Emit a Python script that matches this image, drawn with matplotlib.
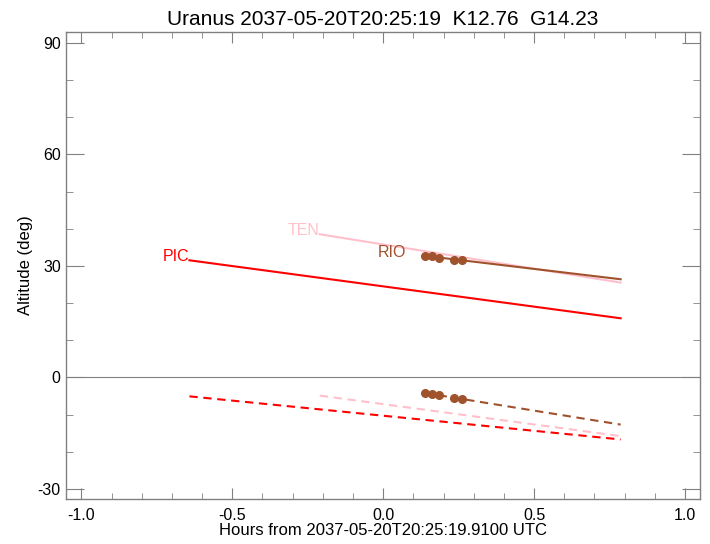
import matplotlib
matplotlib.use("Agg")
import matplotlib.pyplot as plt
from matplotlib.ticker import MultipleLocator

plt.rcParams['font.family'] = ['Liberation Sans', 'DejaVu Sans']

title = "Uranus 2037-05-20T20:25:19  K12.76  G14.23"
xlabel = "Hours from 2037-05-20T20:25:19.9100 UTC"
ylabel = "Altitude (deg)"

# site tracks: hours, altitude (solid) and lower dashed track
sites = ["PIC", "TEN", "RIO"]
colors = ["red", "pink", "sienna"]
hours = {
    "PIC": [-0.642, 0.787],
    "TEN": [-0.21, 0.787],
    "RIO": [0.138, 0.787],
}
alt_solid = {
    "PIC": [31.5, 15.9],
    "TEN": [38.5, 25.5],
    "RIO": [32.7, 26.4],
}
alt_dashed = {
    "PIC": [-5.1, -16.7],
    "TEN": [-4.9, -15.8],
    "RIO": [-4.2, -12.7],
}
label_x = {"PIC": -0.642, "TEN": -0.21, "RIO": 0.076}

rio_dot_hours = [0.138, 0.161, 0.186, 0.236, 0.262]
rio_dot_alt = [32.7, 32.6, 32.2, 31.7, 31.6]
rio_dot_alt_low = [-4.2, -4.5, -4.8, -5.5, -5.8]

fig = plt.figure(figsize=(7.10, 5.44), dpi=100)
ax = fig.add_axes([66.3/710, 1-499.3/544, (700-66.3)/710, (499.3-31.7)/544])

ax.axhline(0, color='#808080', lw=0.8)

for s, c in zip(sites, colors):
    ax.plot(hours[s], alt_solid[s], color=c, lw=1.5)
    ax.plot(hours[s], alt_dashed[s], color=c, lw=1.5, ls=(0, (4, 2.7)))
    ax.text(label_x[s], alt_solid[s][0] - 0.3, s, color=c, fontsize=11.5,
            ha='right', va='baseline')

ax.plot(rio_dot_hours, rio_dot_alt, 'o', color='sienna', ms=5.5)
ax.plot(rio_dot_hours, rio_dot_alt_low, 'o', color='sienna', ms=5.5)

ax.set_xlim(-1.05, 1.05)
ax.set_ylim(-32.8, 93.0)
ax.xaxis.set_major_locator(MultipleLocator(0.5))
ax.xaxis.set_minor_locator(MultipleLocator(0.1))
ax.yaxis.set_major_locator(MultipleLocator(30))
ax.yaxis.set_minor_locator(MultipleLocator(10))
ax.set_xticks([-1.0, -0.5, 0.0, 0.5, 1.0])
ax.set_xticklabels(["-1.0", "-0.5", "0.0", "0.5", "1.0"])
ax.set_yticks([-30, 0, 30, 60, 90])
ax.set_yticklabels(["-30", "0", "30", "60", "90"])
ax.tick_params(which='both', direction='in', top=True, right=True, color='#808080',
               labelsize=11.5)
ax.tick_params(axis='x', which='major', length=8)
ax.tick_params(axis='x', which='minor', length=4)
ax.tick_params(axis='y', which='major', length=13)
ax.tick_params(axis='y', which='minor', length=5)
ax.tick_params(axis='x', pad=6)
ax.tick_params(axis='y', pad=4)
for sp in ax.spines.values():
    sp.set_color('#808080')
    sp.set_linewidth(1.0)

ax.set_title(title, fontsize=15, pad=5)
ax.set_xlabel(xlabel, fontsize=12, labelpad=0)
ax.set_ylabel(ylabel, fontsize=12, labelpad=3)

fig.savefig("out.png", dpi=100)
